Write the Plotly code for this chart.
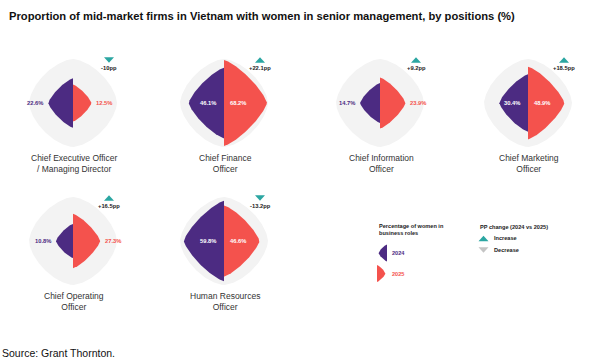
import numpy as np
import plotly.graph_objects as go

# ---------------- data ----------------
positions = [
    "Chief Executive Officer<br>/ Managing Director",
    "Chief Finance<br>Officer",
    "Chief Information<br>Officer",
    "Chief Marketing<br>Officer",
    "Chief Operating<br>Officer",
    "Human Resources<br>Officer",
]
share_2024 = [22.6, 46.1, 14.7, 30.4, 10.8, 59.8]
share_2025 = [12.5, 68.2, 23.9, 48.9, 27.3, 46.6]
pp_change = [-10.0, 22.1, 9.2, 18.5, 16.5, -13.2]
years = ["2024", "2025"]

# ---------------- layout / style ----------------
W, H = 600, 361
col_x = [73, 224, 380, 528]
row_y = [103, 241]
grid = [(0, 0), (0, 1), (0, 2), (0, 3), (1, 0), (1, 1)]
K = 5.2          # half-size (px) per sqrt(percentage)
BG_R = 44
N_SHAPE = 1.3
N_BG = 1.6
INSIDE_MIN = 30  # values >= this get their label inside the shape

PURPLE = "#4c2b82"
CORAL = "#f4524d"
TEAL = "#2ba6a2"
GREY_BG = "#f3f3f3"
FONT = "Liberation Sans, Arial, sans-serif"


def half_shape(cx, cy, r, side, n, m=160):
    t = np.linspace(-np.pi / 2, np.pi / 2, m)
    c, s = np.cos(t), np.sin(t)
    x = side * r * np.abs(c) ** (2 / n)
    y = r * np.sign(s) * np.abs(s) ** (2 / n)
    return cx + x, cy + y


def full_shape(cx, cy, r, n, m=320):
    t = np.linspace(0, 2 * np.pi, m)
    c, s = np.cos(t), np.sin(t)
    x = r * np.sign(c) * np.abs(c) ** (2 / n)
    y = r * np.sign(s) * np.abs(s) ** (2 / n)
    return cx + x, cy + y


def triangle(cx, cy, up, w=10, h=5.5):
    if up:
        return [cx - w / 2, cx + w / 2, cx, cx - w / 2], [cy + h / 2, cy + h / 2, cy - h / 2, cy + h / 2]
    return [cx - w / 2, cx + w / 2, cx, cx - w / 2], [cy - h / 2, cy - h / 2, cy + h / 2, cy - h / 2]


def poly(x, y, color):
    return go.Scatter(x=list(x), y=list(y), mode="lines", fill="toself",
                      fillcolor=color, line=dict(width=0), hoverinfo="skip",
                      showlegend=False)


fig = go.Figure()
ann = []

for i, (r_i, c_i) in enumerate(grid):
    cx, cy = col_x[c_i], row_y[r_i]
    bx, by = full_shape(cx, cy, BG_R, N_BG)
    fig.add_trace(poly(bx, by, GREY_BG))
    vals = [share_2024[i], share_2025[i]]
    cols = [PURPLE, CORAL]
    for side, v, col in zip([-1, 1], vals, cols):
        r = K * np.sqrt(v)
        x, y = half_shape(cx, cy, r, side, N_SHAPE)
        fig.add_trace(poly(x, y, col))
        txt = f"{v:.1f}%"
        if v >= INSIDE_MIN:
            ax = cx - 6 if side < 0 else cx + 4
            color = "white"
        else:
            ax = cx - r - 3 if side < 0 else cx + r + 3
            color = col
        ann.append(dict(x=ax, y=cy, text=txt, xanchor="right" if side < 0 else "left",
                        font=dict(size=5.8, color=color, family=FONT, weight="bold")))
    tx, ty = cx + 36, cy - 43
    txs, tys = triangle(tx, ty, pp_change[i] > 0)
    fig.add_trace(poly(txs, tys, TEAL))
    ann.append(dict(x=tx, y=cy - 35, text=f"{pp_change[i]:+g}pp", xanchor="center",
                    font=dict(size=5.8, color="#222222", family=FONT, weight="bold")))
    ann.append(dict(x=cx + 1, y=cy + 60, text=positions[i], xanchor="center", yanchor="middle",
                    font=dict(size=8.5, color="#333333", family=FONT)))

# ---------------- legend ----------------
lx, ly = 377, 226
ann.append(dict(x=lx, y=ly + 3.5, text="Percentage of women in<br>business roles", xanchor="left",
                align="left", font=dict(size=5.6, color="#222222", family=FONT, weight="bold")))
x, y = half_shape(lx + 10, 253, 8.5, -1, N_SHAPE)
fig.add_trace(poly(x, y, PURPLE))
x, y = half_shape(lx, 273.5, 8.5, 1, N_SHAPE)
fig.add_trace(poly(x, y, CORAL))
ann.append(dict(x=lx + 13, y=253, text=years[0], xanchor="left",
                font=dict(size=5.6, color=PURPLE, family=FONT, weight="bold")))
ann.append(dict(x=lx + 13, y=273.5, text=years[1], xanchor="left",
                font=dict(size=5.6, color=CORAL, family=FONT, weight="bold")))

px = 477.5
ann.append(dict(x=px, y=227, text="PP change (2024 vs 2025)", xanchor="left",
                font=dict(size=5.6, color="#222222", family=FONT, weight="bold")))
txs, tys = triangle(px + 6, 238.5, True)
fig.add_trace(poly(txs, tys, TEAL))
txs, tys = triangle(px + 6, 250, False)
fig.add_trace(poly(txs, tys, "#c4c4c4"))
ann.append(dict(x=px + 14, y=237.5, text="Increase", xanchor="left",
                font=dict(size=5.6, color="#222222", family=FONT, weight="bold")))
ann.append(dict(x=px + 14, y=249.5, text="Decrease", xanchor="left",
                font=dict(size=5.6, color="#222222", family=FONT, weight="bold")))

# ---------------- title / source ----------------
ann.append(dict(x=7, y=15.5, text="Proportion of mid-market firms in Vietnam with women in senior management, by positions (%)",
                xanchor="left", font=dict(size=11.2, color="#111111", family=FONT, weight="bold")))
ann.append(dict(x=0, y=353, text="Source: Grant Thornton.", xanchor="left",
                font=dict(size=10.5, color="#111111", family=FONT)))

for a in ann:
    a.setdefault("yanchor", "middle")
    a["showarrow"] = False
    a["xref"] = "x"
    a["yref"] = "y"

fig.update_layout(
    width=W, height=H,
    margin=dict(l=0, r=0, t=0, b=0),
    paper_bgcolor="white", plot_bgcolor="white",
    xaxis=dict(range=[0, W], visible=False, fixedrange=True),
    yaxis=dict(range=[H, 0], visible=False, fixedrange=True),
    annotations=ann,
    showlegend=False,
)

fig.write_html("out.html", config={"displayModeBar": False},
               post_script="document.body.style.margin='0';document.body.style.overflow='hidden';")
